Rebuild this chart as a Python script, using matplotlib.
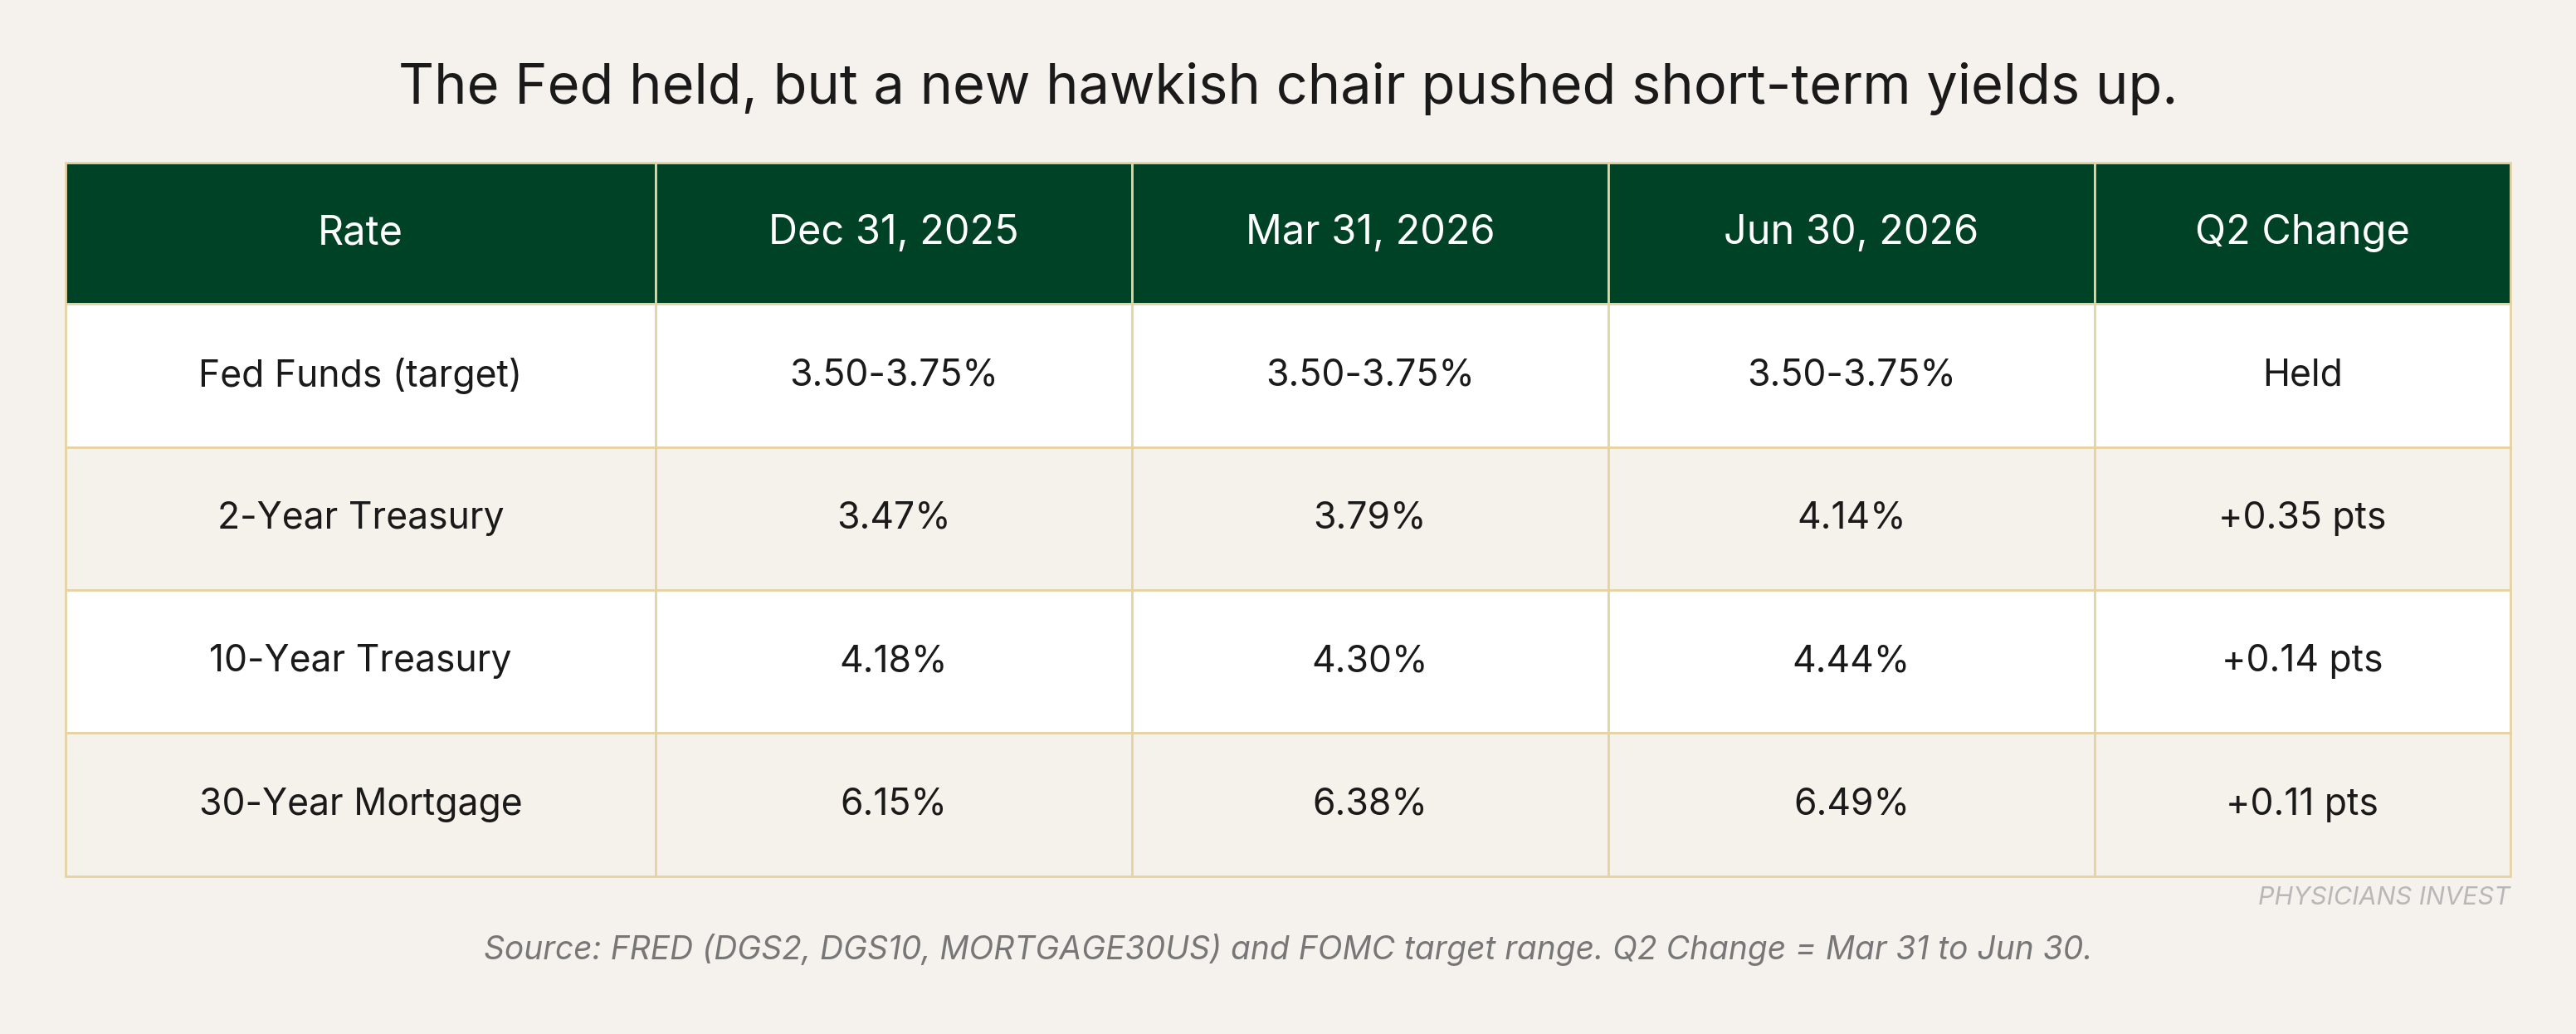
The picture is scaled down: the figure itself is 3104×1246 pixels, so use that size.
import matplotlib.pyplot as plt
from matplotlib.patches import Rectangle

plt.rcParams['font.family'] = ['Inter', 'DejaVu Sans']

title = "The Fed held, but a new hawkish chair pushed short-term yields up."
columns = ["Rate", "Dec 31, 2025", "Mar 31, 2026", "Jun 30, 2026", "Q2 Change"]
rates = ["Fed Funds (target)", "2-Year Treasury", "10-Year Treasury", "30-Year Mortgage"]
dec_2025 = ["3.50-3.75%", "3.47%", "4.18%", "6.15%"]
mar_2026 = ["3.50-3.75%", "3.79%", "4.30%", "6.38%"]
jun_2026 = ["3.50-3.75%", "4.14%", "4.44%", "6.49%"]
q2_change = ["Held", "+0.35 pts", "+0.14 pts", "+0.11 pts"]
source = "Source: FRED (DGS2, DGS10, MORTGAGE30US) and FOMC target range. Q2 Change = Mar 31 to Jun 30."
brand = "PHYSICIANS INVEST"

bg = "#F5F2ED"
green = "#004225"
border = "#E6D3A3"
alt = "#F5F1EB"

# layout in reference pixel units (1568 x 629)
col_edges = [40, 399, 689, 979, 1275, 1528]
top, head_h, row_h = 99, 86, 87

fig = plt.figure(figsize=(31.04, 12.46), dpi=100, facecolor=bg)
ax = fig.add_axes([0, 0, 1, 1])
ax.set_xlim(0, 1568)
ax.set_ylim(629, 0)
ax.axis('off')

ax.text(784, 54, title, ha='center', va='center', fontsize=48, color='#1a1a1a')

rows = list(zip(rates, dec_2025, mar_2026, jun_2026, q2_change))
for j, name in enumerate(columns):
    x0, x1 = col_edges[j], col_edges[j + 1]
    ax.add_patch(Rectangle((x0, top), x1 - x0, head_h, facecolor=green,
                           edgecolor=border, lw=2))
    ax.text((x0 + x1) / 2, top + head_h / 2, name, ha='center', va='center',
            fontsize=35, color='white')
for i, row in enumerate(rows):
    y0 = top + head_h + i * row_h
    fc = 'white' if i % 2 == 0 else alt
    for j, val in enumerate(row):
        x0, x1 = col_edges[j], col_edges[j + 1]
        ax.add_patch(Rectangle((x0, y0), x1 - x0, row_h, facecolor=fc,
                               edgecolor=border, lw=2))
        ax.text((x0 + x1) / 2, y0 + row_h / 2, val, ha='center', va='center',
                fontsize=32, color='#1a1a1a')

bottom = top + head_h + len(rows) * row_h
ax.text(col_edges[-1], bottom + 13, brand, ha='right', va='center',
        fontsize=22, color='#b8b8b8', style='italic')
ax.text(784, bottom + 45, source, ha='center', va='center',
        fontsize=28, color='#777777', style='italic')

fig.savefig("out.png", dpi=100, facecolor=bg)
